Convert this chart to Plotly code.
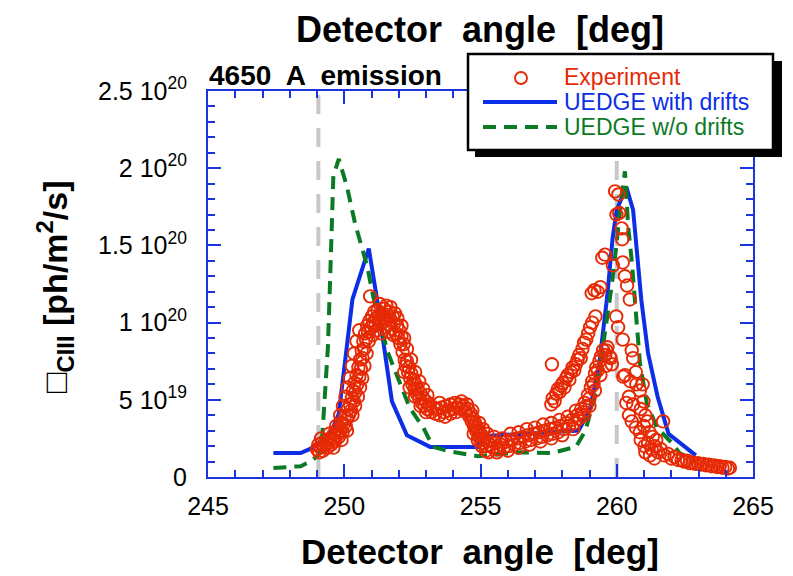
import plotly.graph_objects as go

# ---------------- data (y in units of 1e20 ph/m^2/s) ----------------
DRIFT_X = [247.4, 248.4, 248.85, 249.5, 249.8, 250.3, 250.9, 251.25, 251.75, 252.3, 253.15, 254.9,
           255.15, 255.7, 258.6, 259.0, 259.35, 259.65, 259.85, 260.0, 260.35, 260.6, 260.9, 261.15,
           261.5, 261.9, 262.9]
DRIFT_Y = [0.155, 0.155, 0.19, 0.285, 0.41, 1.15, 1.48, 1.10, 0.49, 0.27, 0.195, 0.195,
           0.265, 0.27, 0.30, 0.43, 0.72, 1.17, 1.55, 1.73, 1.88, 1.73, 1.15, 0.80,
           0.52, 0.28, 0.14]

NODRIFT_X = [247.4, 248.4, 248.75, 249.05, 249.2, 249.3, 249.4, 249.48, 249.55, 249.6, 249.8, 250.1,
             250.4, 250.65, 250.85, 251.06, 251.3, 251.57, 251.94, 252.4, 252.9, 253.26, 253.9, 254.9,
             256.5, 257.6, 258.5, 258.85, 259.27, 259.57, 259.83, 260.0, 260.12, 260.3, 260.42,
             260.55, 260.67, 260.85, 261.1, 261.47, 262.03, 262.3, 262.9]
NODRIFT_Y = [0.058, 0.07, 0.10, 0.14, 0.28, 0.52, 0.84, 1.27, 1.6, 1.95, 2.06, 1.88,
             1.64, 1.49, 1.36, 1.17, 1.02, 0.82, 0.65, 0.45, 0.32, 0.195, 0.165, 0.135,
             0.16, 0.155, 0.195, 0.30, 0.57, 0.93, 1.26, 1.52, 1.73, 1.98, 1.62,
             1.40, 1.10, 0.74, 0.48, 0.32, 0.22, 0.155, 0.10]

EXP_RISE = [(249.00,0.18),(249.05,0.21),(249.08,0.16),(249.12,0.19),(249.18,0.22),(249.22,0.17),
            (249.28,0.20),(249.33,0.23),(249.38,0.19),(249.42,0.22),(249.48,0.25),(249.52,0.21),
            (249.58,0.24),(249.62,0.28),(249.66,0.23),(249.72,0.27),(249.76,0.31),(249.80,0.26),
            (249.86,0.30),(249.90,0.35),(249.94,0.29),(249.98,0.34),(250.02,0.39),(250.06,0.33),
            (250.10,0.38),(250.13,0.44),(250.17,0.40),(250.21,0.47),(250.25,0.43),(250.28,0.51),
            (250.32,0.56),(250.35,0.49),(250.38,0.61),(250.41,0.55),(250.45,0.66),(250.48,0.60),
            (250.52,0.71),(250.55,0.65),(250.58,0.76),(250.61,0.70),(250.64,0.82),(250.67,0.77),
            (250.70,0.88),(250.73,0.83),(250.77,0.93),(250.80,0.89),(250.84,0.98),(250.87,0.94),
            (250.92,1.01),(250.95,1.17)]
EXP_RISE_LEFT = [(249.15,0.25),(249.45,0.28),(249.70,0.33),(249.85,0.40),(249.95,0.46),(250.05,0.52),
                 (250.12,0.58),(250.20,0.64),(250.28,0.72),(250.36,0.80),(250.45,0.88),(250.55,0.95)]
EXP_RISE_RIGHT = [(249.60,0.19),(249.90,0.24),(250.10,0.30),(250.30,0.40),(250.40,0.46),(250.50,0.52),
                  (250.58,0.58),(250.66,0.64),(250.74,0.72),(250.82,0.80),(250.90,0.88)]
EXP_PEAK1 = [(250.98,0.97),(251.02,1.04),(251.06,1.00),(251.10,1.07),(251.14,0.98),(251.18,1.03),
             (251.22,1.08),(251.26,1.01),(251.30,1.05),(251.34,0.99),(251.38,1.06),(251.42,1.02),
             (251.46,1.09),(251.50,1.03),(251.54,1.11),(251.58,1.05),(251.62,0.99),(251.66,1.07),
             (251.70,1.02),(251.74,0.96),(251.78,1.04),(251.82,0.99),(251.86,1.06),(251.90,0.93),
             (251.94,0.98),(251.98,0.90)]
EXP_PEAK1_EXTRA = [(251.05,0.92),(251.20,0.95),(251.35,0.93),(251.50,0.97),(251.65,0.94),(251.80,0.92),
                   (251.30,1.12),(251.70,1.10),(251.95,1.03),(252.10,0.98),(252.20,0.90)]
EXP_DESCENT = [(252.02,0.95),(252.06,0.86),(252.10,0.91),(252.14,0.81),(252.18,0.86),(252.22,0.76),
               (252.26,0.72),(252.30,0.75),(252.34,0.68),(252.38,0.71),(252.42,0.64),(252.46,0.67),
               (252.50,0.60),(252.54,0.63),(252.58,0.57),(252.62,0.60),(252.66,0.54),(252.70,0.57),
               (252.75,0.51),(252.80,0.54),(252.85,0.48),(252.90,0.51),(252.95,0.46),(253.00,0.49),
               (253.05,0.44),(253.12,0.47),(253.20,0.42),(253.28,0.45)]
EXP_DESCENT_EXTRA = [(252.30,0.83),(252.45,0.76),(252.60,0.68),(252.75,0.62),(252.90,0.57),(253.05,0.53),
                     (252.20,0.68),(252.40,0.58),(252.60,0.52),(252.80,0.46),(253.00,0.42)]
EXP_PLATEAU = [(253.35,0.41),(253.42,0.44),(253.50,0.40),(253.58,0.45),(253.66,0.42),(253.74,0.46),
               (253.82,0.43),(253.90,0.47),(253.98,0.44),(254.06,0.48),(254.14,0.45),(254.22,0.47),
               (254.30,0.44),(254.38,0.46),(254.46,0.42),(254.54,0.44)]
EXP_PLATEAU_EXTRA = [(253.50,0.48),(253.70,0.39),(253.90,0.41),(254.10,0.42),(254.30,0.49),(254.50,0.47),
                     (254.70,0.43)]
EXP_DROP = [(254.60,0.39),(254.64,0.41),(254.68,0.36),(254.72,0.38),(254.76,0.33),(254.80,0.35),
            (254.84,0.30),(254.88,0.32),(254.92,0.27),(254.96,0.29),(255.00,0.24),(255.05,0.27),
            (255.10,0.22),(255.15,0.25),(255.20,0.20),(255.25,0.23),(255.30,0.16)]
EXP_DROP_EXTRA = [(254.75,0.28),(254.90,0.24),(255.05,0.20),(255.20,0.17),(254.95,0.35),(255.10,0.31),
                  (255.25,0.28)]
EXP_VALLEY = [(255.35,0.21),(255.45,0.19),(255.55,0.22),(255.65,0.18),(255.75,0.21),(255.85,0.19),
              (255.95,0.23),(256.05,0.20),(256.15,0.24),(256.25,0.21),(256.35,0.25),(256.45,0.22),
              (256.55,0.26),(256.65,0.23),(256.75,0.27),(256.85,0.24),(256.95,0.28),(257.05,0.25),
              (257.15,0.29),(257.25,0.26),(257.35,0.30),(257.45,0.27),(257.55,0.31),(257.65,0.28),
              (257.75,0.32),(257.85,0.29),(257.95,0.33),(258.05,0.31),(258.15,0.35),(258.25,0.33),
              (258.35,0.37),(258.45,0.35),(258.55,0.40),(258.62,0.38)]
EXP_VALLEY_EXTRA = [(255.50,0.26),(255.80,0.25),(256.10,0.28),(256.40,0.29),(256.70,0.31),(257.00,0.32),
                    (257.30,0.34),(257.60,0.35),(257.90,0.37),(258.20,0.39),(258.50,0.43),(255.60,0.16),
                    (256.00,0.17),(256.40,0.19),(256.80,0.21),(257.20,0.23),(257.60,0.25),(258.00,0.27),
                    (258.40,0.31)]
EXP_LOWER_BRANCH = [(258.70,0.44),(258.76,0.42),(258.82,0.48),(258.88,0.46),(258.94,0.53),(259.00,0.51),
                    (259.05,0.58),(259.10,0.62),(259.15,0.60),(259.20,0.67),(259.25,0.71),(259.30,0.69),
                    (259.36,0.75),(259.42,0.78),(259.50,0.82),(259.58,0.79),(259.66,0.84),(259.74,0.78),
                    (259.82,0.73),(258.80,0.40),(259.00,0.46),(259.20,0.56),(259.40,0.66),(259.60,0.72)]
EXP_UPPER_BRANCH = [(257.60,0.47),(257.65,0.51),(257.62,0.73),(257.72,0.49),(257.78,0.54),(257.84,0.57),
                    (257.90,0.55),(257.96,0.59),(258.02,0.61),(258.08,0.58),(258.14,0.64),(258.20,0.66),
                    (258.26,0.63),(258.32,0.68),(258.38,0.71),(258.44,0.69),(258.50,0.73),(258.56,0.76),
                    (258.62,0.79),(258.68,0.77),(258.74,0.83),(258.80,0.87),(258.88,0.89),(258.95,0.93),
                    (259.02,0.97),(259.10,1.00),(259.22,1.04),(259.08,1.19),(259.18,1.21),(259.30,1.20),
                    (259.40,1.23),(259.47,1.42),(259.57,1.44),(259.86,1.37)]
EXP_PEAK2 = [(259.94,1.85),(260.06,1.83),(259.99,1.70),(260.09,1.71),(260.18,1.61),(260.20,1.54),
             (260.22,1.39),(260.30,1.30),(260.38,1.24),(260.48,1.15),(259.98,1.04),(260.05,0.97),
             (260.22,0.89),(259.62,0.82),(259.78,0.77),(260.55,0.82),(260.60,0.77),(260.24,0.65),
             (260.35,0.48),(260.45,0.40)]
EXP_FALL = [(260.30,0.66),(260.50,0.62),(260.70,0.68),(260.72,0.60),(260.85,0.56),(260.95,0.60),
            (260.45,0.52),(260.60,0.47),(260.88,0.44),(260.98,0.49),(261.05,0.40),(260.55,0.36),
            (260.70,0.32),(260.85,0.29),(261.00,0.33),(261.12,0.36),(261.20,0.29),(261.32,0.26),
            (261.45,0.24),(261.70,0.36),(260.88,0.24),(261.02,0.20),(261.15,0.22),(261.28,0.18),
            (261.40,0.20),(261.52,0.16),(261.62,0.18),(261.75,0.14),(261.88,0.15),(262.00,0.12),
            (262.12,0.13),(262.25,0.11),(261.05,0.16),(261.22,0.14),(261.38,0.12)]
EXP_TAIL = [(262.38,0.11),(262.48,0.10),(262.58,0.105),(262.68,0.09),(262.78,0.095),(262.88,0.085),
            (262.98,0.09),(263.08,0.08),(263.18,0.085),(263.28,0.075),(263.38,0.08),(263.48,0.07),
            (263.58,0.075),(263.68,0.065),(263.78,0.07),(263.88,0.06),(263.98,0.065),(264.08,0.055),
            (264.15,0.06)]

VLINES = [249.05, 260.0]

Y_TICKVALS = [0, 0.5, 1.0, 1.5, 2.0, 2.5]
Y_TICKTEXT = ["0", "5 10<sup>19</sup>", "1 10<sup>20</sup>", "1.5 10<sup>20</sup>",
              "2 10<sup>20</sup>", "2.5 10<sup>20</sup>"]
X_TICKVALS = [245, 250, 255, 260, 265]

LEGEND_NAMES = ["Experiment", "UEDGE with drifts", "UEDGE w/o drifts"]

# ---------------- style ----------------
RED = "#e62a05"
BLUE = "#0b2ee6"
GREEN = "#0b7a25"
AXIS = "#1a35e0"
FONT = "Liberation Sans, Arial, Helvetica, sans-serif"

W, H = 793, 576
L, R, T, B = 208, 40, 91, 99
PW, PH = W - L - R, H - T - B


def px(xp):
    return (xp - L) / PW


def py(yp):
    return (H - B - yp) / PH


exp_pts = (EXP_RISE + EXP_RISE_LEFT + EXP_RISE_RIGHT + EXP_PEAK1 + EXP_PEAK1_EXTRA +
           EXP_DESCENT + EXP_DESCENT_EXTRA + EXP_PLATEAU + EXP_PLATEAU_EXTRA + EXP_DROP +
           EXP_DROP_EXTRA + EXP_VALLEY + EXP_VALLEY_EXTRA + EXP_LOWER_BRANCH + EXP_UPPER_BRANCH +
           EXP_PEAK2 + EXP_FALL + EXP_TAIL)
exp_x = [p[0] for p in exp_pts]
exp_y = [p[1] for p in exp_pts]

fig = go.Figure()
fig.add_trace(go.Scatter(x=DRIFT_X, y=DRIFT_Y, mode="lines", name=LEGEND_NAMES[1],
                         line=dict(color=BLUE, width=4)))
fig.add_trace(go.Scatter(x=NODRIFT_X, y=NODRIFT_Y, mode="lines", name=LEGEND_NAMES[2],
                         line=dict(color=GREEN, width=4, dash="13px,8px")))
fig.add_trace(go.Scatter(x=exp_x, y=exp_y, mode="markers", name=LEGEND_NAMES[0],
                         marker=dict(symbol="circle-open", size=12.5, color=RED,
                                     line=dict(width=1.9, color=RED))))

shapes = []
for xv in VLINES:
    shapes.append(dict(type="line", xref="x", yref="paper", x0=xv, x1=xv, y0=0, y1=1,
                       layer="below", line=dict(color="#c8c8c8", width=4, dash="19px,14px")))

# custom legend box with shadow
shapes.append(dict(type="rect", xref="paper", yref="paper", x0=px(475), x1=px(782),
                   y0=py(157), y1=py(61), fillcolor="black", line=dict(width=0), layer="above"))
shapes.append(dict(type="rect", xref="paper", yref="paper", x0=px(468), x1=px(773),
                   y0=py(150), y1=py(54), fillcolor="white", line=dict(color="black", width=2.5),
                   layer="above"))
shapes.append(dict(type="circle", xref="paper", yref="paper", x0=px(515), x1=px(527),
                   y0=py(84), y1=py(72), line=dict(color=RED, width=1.9), layer="above"))
shapes.append(dict(type="line", xref="paper", yref="paper", x0=px(483), x1=px(557),
                   y0=py(102), y1=py(102), line=dict(color=BLUE, width=4), layer="above"))
shapes.append(dict(type="line", xref="paper", yref="paper", x0=px(483), x1=px(557),
                   y0=py(127), y1=py(127), line=dict(color=GREEN, width=4, dash="13px,8px"),
                   layer="above"))

annotations = []
for name, col, yp in zip(LEGEND_NAMES, [RED, BLUE, GREEN], [77, 102, 127]):
    annotations.append(dict(text=name, xref="paper", yref="paper", x=px(562), y=py(yp),
                            xanchor="left", yanchor="middle", showarrow=False,
                            font=dict(family=FONT, size=23, color=col)))

annotations.append(dict(text="<b>Detector  angle  [deg]</b>", xref="paper", yref="paper",
                        x=px(480), y=py(29), xanchor="center", yanchor="middle", showarrow=False,
                        font=dict(family=FONT, size=36, color="black")))
annotations.append(dict(text="<b>Detector  angle  [deg]</b>", xref="paper", yref="paper",
                        x=px(480), y=py(551), xanchor="center", yanchor="middle", showarrow=False,
                        borderpad=0,
                        font=dict(family=FONT, size=35, color="black")))
annotations.append(dict(text="<b>4650  A  emission</b>", xref="paper", yref="paper",
                        x=px(207), y=py(75), xanchor="left", yanchor="middle", showarrow=False,
                        font=dict(family=FONT, size=28, color="black")))
annotations.append(dict(text="<b>\u25a1<sub>CIII</sub> [ph/m<sup>2</sup>/s]</b>", xref="paper",
                        yref="paper", x=px(55), y=py(287), xanchor="center", yanchor="middle",
                        textangle=-90, showarrow=False,
                        font=dict(family=FONT, size=34, color="black")))

axis_common = dict(showline=True, linecolor=AXIS, linewidth=2, mirror="ticks", ticks="inside",
                   tickcolor=AXIS, tickwidth=2, ticklen=13, showgrid=False, zeroline=False,
                   tickfont=dict(family=FONT, size=25, color="black"))

fig.update_layout(
    width=W, height=H,
    margin=dict(l=L, r=R, t=T, b=B),
    paper_bgcolor="white", plot_bgcolor="white",
    showlegend=False,
    shapes=shapes,
    annotations=annotations,
    xaxis=dict(range=[245, 265], tickmode="array", tickvals=X_TICKVALS,
               ticklabelstandoff=6,
               minor=dict(dtick=1, tick0=245, ticks="inside", ticklen=7, tickcolor=AXIS,
                          tickwidth=2, showgrid=False),
               **axis_common),
    yaxis=dict(range=[0, 2.5], tickmode="array", tickvals=Y_TICKVALS, ticktext=Y_TICKTEXT,
               ticklabelstandoff=14,
               minor=dict(dtick=0.1, tick0=0, ticks="inside", ticklen=7, tickcolor=AXIS,
                          tickwidth=2, showgrid=False),
               **axis_common),
)

fig.write_html("out.html")
